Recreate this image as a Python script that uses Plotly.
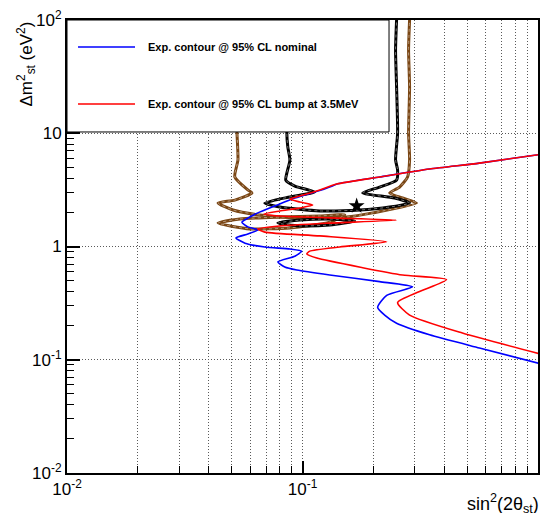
import plotly.graph_objects as go

# ---- data ----
blue_x = [1.05, 0.564, 0.346, 0.213, 0.140, 0.134, 0.124, 0.0928, 0.0763, 0.0646, 0.0578, 0.0553,
          0.0586, 0.0646, 0.0586, 0.0522, 0.0570, 0.0692, 0.0884, 0.0993, 0.0928, 0.0786, 0.0841,
          0.0946, 0.1305, 0.2126, 0.2934, 0.2277, 0.2085, 0.2233, 0.2509, 0.3463, 0.564, 1.05]
blue_y = [6.55, 5.45, 4.83, 4.11, 3.56, 3.42, 3.22, 2.68, 2.28, 1.98, 1.75, 1.64,
          1.49, 1.40, 1.29, 1.19, 1.07, 0.99, 0.95, 0.91, 0.82, 0.73, 0.66,
          0.62, 0.56, 0.49, 0.44, 0.37, 0.29, 0.248, 0.21, 0.166, 0.127, 0.091]

red_x = [1.05, 0.564, 0.346, 0.213, 0.1397, 0.1184, 0.0974, 0.0884, 0.0974, 0.1105, 0.0974, 0.0801,
         0.0685, 0.0801, 0.1305, 0.2509, 0.1305, 0.0801, 0.0646, 0.0692, 0.1184, 0.2277, 0.1439,
         0.1074, 0.1043, 0.1150, 0.1801, 0.2661, 0.4088, 0.3141, 0.2534, 0.2849, 0.4775, 1.05]
red_y = [6.55, 5.45, 4.83, 4.11, 3.56, 3.16, 2.79, 2.63, 2.47, 2.32, 2.19, 2.06,
         1.94, 1.86, 1.79, 1.71, 1.61, 1.52, 1.43, 1.34, 1.24, 1.10, 0.99,
         0.91, 0.86, 0.79, 0.65, 0.56, 0.51, 0.40, 0.32, 0.248, 0.172, 0.111]

black_x = [0.0866, 0.0858, 0.0875, 0.0858, 0.0866, 0.0884, 0.0858, 0.0849, 0.0928, 0.1127, 0.0884,
           0.0692, 0.0801, 0.1184, 0.1749, 0.2344, 0.2849, 0.2461, 0.1801, 0.2126, 0.2509, 0.2534,
           0.2484, 0.2534, 0.2509, 0.2484, 0.2509]
black_y = [100, 44.4, 19.7, 10.0, 7.57, 5.81, 4.45, 3.86, 3.42, 3.03, 2.74,
           2.42, 2.23, 2.06, 2.10, 2.23, 2.42, 2.68, 2.97, 3.35, 3.86, 4.74,
           5.81, 10.0, 25.6, 54.4, 100]
black_island_x = [0.0786, 0.0974, 0.1305, 0.1665, 0.1305, 0.0974, 0.0786]
black_island_y = [1.61, 1.71, 1.75, 1.68, 1.55, 1.52, 1.61]

brown_x = [0.0527, 0.0532, 0.0522, 0.0527, 0.0532, 0.0516, 0.0586, 0.0610, 0.0516, 0.0438, 0.0507,
           0.0659, 0.0974, 0.1541, 0.1986, 0.3050, 0.2661, 0.2344, 0.2584, 0.2794, 0.2849, 0.2821,
           0.2849, 0.2821, 0.2849]
brown_y = [100, 44.4, 19.7, 10.0, 5.81, 4.11, 3.16, 2.97, 2.57, 2.42, 2.10,
           1.90, 1.79, 1.82, 1.98, 2.42, 2.68, 2.97, 3.35, 4.11, 5.81, 10.0,
           25.6, 54.4, 100]
brown_island_x = [0.0438, 0.0542, 0.0801, 0.1184, 0.1511, 0.1305, 0.0884, 0.0598, 0.0438]
brown_island_y = [1.61, 1.75, 1.82, 1.86, 1.90, 1.64, 1.46, 1.43, 1.61]

star_x = [0.1698]
star_y = [2.28]

x_tickvals = [0.01, 0.1, 1]
x_ticktext = ['10<sup>-2</sup>', '10<sup>-1</sup>', '1']
y_tickvals = [0.01, 0.1, 1, 10, 100]
y_ticktext = ['10<sup>-2</sup>', '10<sup>-1</sup>', '1', '10', '10<sup>2</sup>']
minor_x = [m * d for d in (0.01, 0.1) for m in range(2, 10)]
minor_y = [m * d for d in (0.01, 0.1, 1, 10) for m in range(2, 10)]

legend_labels = ['Exp. contour @ 95% CL nominal', 'Exp. contour @ 95% CL bump at 3.5MeV']

BROWN = '#7a4614'
GRIDC = '#5a5a5a'
GRIDDASH = '1px,2px'

fig = go.Figure()

def thick(x, y, color):
    fig.add_trace(go.Scatter(x=x, y=y, mode='lines', line=dict(color=color, width=3, shape='spline', smoothing=0.6),
                             hoverinfo='skip'))
    fig.add_trace(go.Scatter(x=x, y=y, mode='lines', line=dict(color='white', width=1, dash='dot', shape='spline', smoothing=0.6),
                             opacity=0.45, hoverinfo='skip'))

thick(brown_x, brown_y, BROWN)
thick(brown_island_x, brown_island_y, BROWN)
thick(black_x, black_y, 'black')
thick(black_island_x, black_island_y, 'black')

fig.add_trace(go.Scatter(x=blue_x, y=blue_y, mode='lines', name=legend_labels[0],
                         line=dict(color='#0000ff', width=1.6, shape='spline', smoothing=0.6)))
fig.add_trace(go.Scatter(x=red_x, y=red_y, mode='lines', name=legend_labels[1],
                         line=dict(color='#ff0000', width=1.6, shape='spline', smoothing=0.6)))
fig.add_trace(go.Scatter(x=star_x, y=star_y, mode='markers',
                         marker=dict(symbol='star', size=12, color='black')))

fig.update_xaxes(type='log', range=[-2, 0], showline=True, linecolor='black', linewidth=2, mirror=True,
                 ticks='inside', ticklen=12, tickwidth=1.5, tickcolor='black',
                 tickmode='array', tickvals=x_tickvals, ticktext=x_ticktext,
                 showgrid=True, zeroline=False, gridcolor=GRIDC, griddash=GRIDDASH, gridwidth=1,
                 minor=dict(tickmode='array', tickvals=minor_x, ticks='inside', ticklen=7, tickwidth=1.2,
                            tickcolor='black', showgrid=True, gridcolor=GRIDC, griddash=GRIDDASH, gridwidth=1),
                 tickfont=dict(size=17))
fig.update_yaxes(type='log', range=[-2, 2], showline=True, linecolor='black', linewidth=2, mirror=True,
                 ticks='inside', ticklen=13, tickwidth=1.5, tickcolor='black',
                 tickmode='array', tickvals=y_tickvals, ticktext=y_ticktext,
                 showgrid=True, zeroline=False, gridcolor=GRIDC, griddash=GRIDDASH, gridwidth=1,
                 minor=dict(tickmode='array', tickvals=minor_y, ticks='inside', ticklen=7, tickwidth=1.2,
                            tickcolor='black', showgrid=False),
                 tickfont=dict(size=17))

# legend box (drawn above the curves, as in the reference)
fig.add_shape(type='rect', xref='paper', yref='paper', x0=0, x1=0.6837, y0=0.7528, y1=1,
              line=dict(color='black', width=1), fillcolor='white', layer='above')
for yy, col, lab in [(0.9404, '#0000ff', legend_labels[0]), (0.8146, '#ff0000', legend_labels[1])]:
    fig.add_shape(type='line', xref='paper', yref='paper', x0=0.0234, x1=0.1444, y0=yy, y1=yy,
                  line=dict(color=col, width=1.6), layer='above')
    fig.add_annotation(xref='paper', yref='paper', x=0.1677, y=yy, xanchor='left', yanchor='middle',
                       text='<b>' + lab + '</b>', showarrow=False, font=dict(size=11, color='black'))

fig.add_annotation(xref='paper', yref='paper', x=-0.087, y=1.0, xanchor='center', yanchor='top',
                   text='Δm<sup>2</sup><sub>st</sub> (eV<sup>2</sup>)', textangle=-90, showarrow=False,
                   font=dict(size=17))
fig.add_annotation(xref='paper', yref='paper', x=1.006, y=-0.068, xanchor='right', yanchor='middle',
                   text='sin<sup>2</sup>(2θ<sub>st</sub>)', showarrow=False, font=dict(size=18))

fig.update_layout(width=540, height=513, margin=dict(l=67, r=2, t=20, b=40, autoexpand=False),
                  plot_bgcolor='white', paper_bgcolor='white', showlegend=False,
                  font=dict(family='Liberation Sans, Arial, sans-serif', size=17, color='black'))

fig.write_html('out.html', config={'displayModeBar': False},
               post_script="document.body.style.margin='0px';document.documentElement.style.overflow='hidden';")
